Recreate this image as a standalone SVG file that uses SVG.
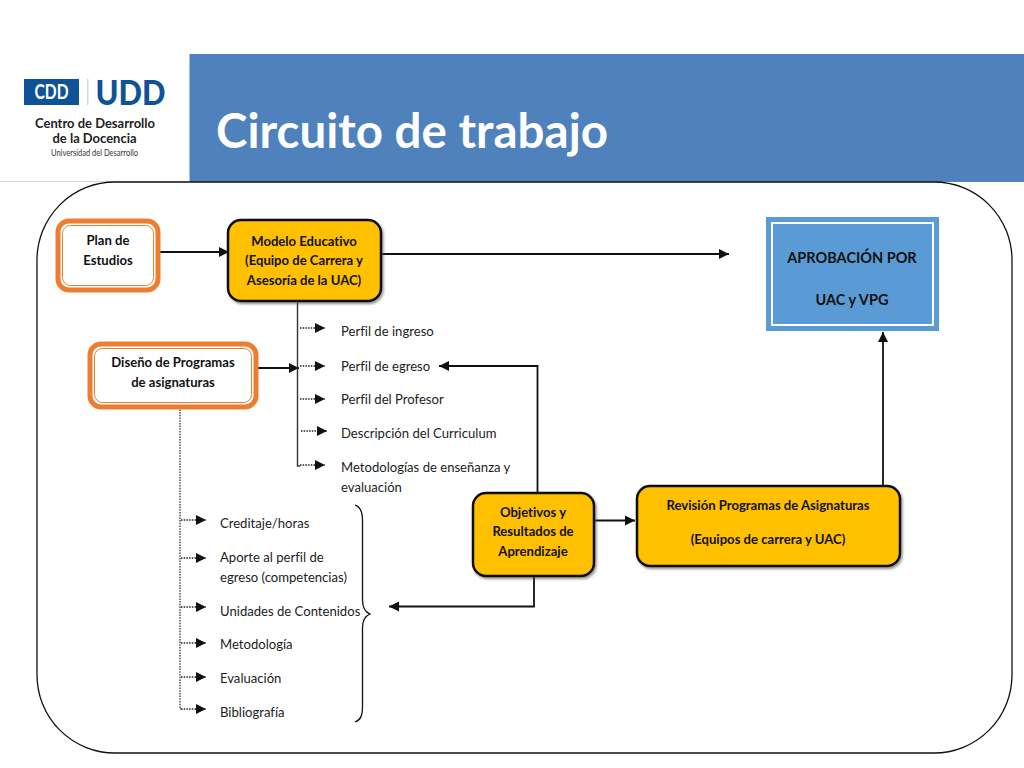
<svg xmlns="http://www.w3.org/2000/svg" width="1024" height="768" viewBox="0 0 1024 768">
<style>
text{font-family:"Lato","Carlito","Open Sans",sans-serif;fill:#1c1c1c;font-size:13.100px;font-variant-ligatures:none}
.c{text-anchor:middle}
.b{font-weight:700;fill:#111}
.org{fill:#fff;stroke:#ed7d31;stroke-width:5}
.orgi{fill:none;stroke:#ed7d31;stroke-width:1}
.gold{fill:#ffc000;stroke:#111;stroke-width:2.5;filter:url(#sh)}
.ln{fill:none;stroke:#111;stroke-width:1.800}
.dot{fill:none;stroke:#222;stroke-width:1.200;stroke-dasharray:1.500 1.200}
.dl{fill:none;stroke:#222;stroke-width:1.400;stroke-dasharray:1.500 1.200;marker-end:url(#ah2)}
.ar{marker-end:url(#ah)}
</style>
<defs>
<marker id="ah" markerUnits="userSpaceOnUse" markerWidth="12" markerHeight="12" refX="10" refY="6" orient="auto"><path d="M0,1 L10,6 L0,11 Z" fill="#111"/></marker>
<marker id="ah2" markerUnits="userSpaceOnUse" markerWidth="12" markerHeight="12" refX="10" refY="6" orient="auto"><path d="M0,1 L10,6 L0,11 Z" fill="#111"/></marker>
<filter id="sh" x="-5%" y="-5%" width="110%" height="115%"><feDropShadow dx="1.500" dy="2" stdDeviation="0.800" flood-color="#555" flood-opacity="0.6"/></filter>
</defs>
<rect width="1024" height="768" fill="#fff"/>
<g id="header">
<rect x="189.500" y="54" width="835" height="128" fill="#4f81bd"/>
<line x1="0" y1="181.500" x2="189" y2="181.500" stroke="#d9d9d9" stroke-width="1"/>
<text x="216" y="148" style="font-size:48px;font-weight:700;fill:#fff" textLength="392" lengthAdjust="spacingAndGlyphs">Circuito de trabajo</text>
</g>
<g id="logo">
<rect x="24" y="79" width="55" height="26" fill="#0f5297"/>
<text x="51.500" y="99" class="c" style="font-size:20px;font-weight:700;fill:#fff" textLength="34" lengthAdjust="spacingAndGlyphs">CDD</text>
<rect x="87" y="79" width="1.500" height="26" fill="#d5d5d5"/>
<text x="130.500" y="105" class="c" style="font-size:35px;font-weight:900;fill:#0f5297" textLength="70" lengthAdjust="spacingAndGlyphs">UDD</text>
<text x="95" y="128" class="c" style="font-size:13px;font-weight:700;fill:#222" textLength="120" lengthAdjust="spacingAndGlyphs">Centro de Desarrollo</text>
<text x="94.500" y="143" class="c" style="font-size:13px;font-weight:700;fill:#222" textLength="84" lengthAdjust="spacingAndGlyphs">de la Docencia</text>
<text x="94.500" y="156" class="c" style="font-size:8.500px;fill:#333" textLength="87" lengthAdjust="spacingAndGlyphs">Universidad del Desarrollo</text>
</g>
<rect id="frame" x="37" y="182" width="975" height="571" rx="78" ry="78" fill="none" stroke="#111" stroke-width="1.300"/>
<g id="connectors">
<path class="ln ar" d="M159,252 H229"/>
<path class="ln ar" d="M382,254 H729"/>
<path class="ln ar" d="M258,368 H299"/>
<path d="M297.500,302 V466 H300" fill="none" stroke="#333" stroke-width="1.400"/>
<path class="dot" d="M180,404 V709 H182"/>
<path class="ln ar" d="M537.500,492 V366 H439"/>
<path class="ln ar" d="M534,577 V606.500 H389"/>
<path class="ln ar" d="M595,520.500 H635"/>
<path class="ln ar" d="M883,486 V332"/>
<path class="dl" d="M300,328 H325"/>
<path class="dl" d="M300,366 H325"/>
<path class="dl" d="M300,399 H325"/>
<path class="dl" d="M301,431 H327"/>
<path class="dl" d="M300,465 H325"/>
<path class="dl" d="M181,520 H206"/>
<path class="dl" d="M181,558 H206"/>
<path class="dl" d="M181,607 H206"/>
<path class="dl" d="M181,643 H206"/>
<path class="dl" d="M181,677 H206"/>
<path class="dl" d="M181,709 H206"/>
<path id="brace" d="M355,505 C361,507 362.500,512 362.500,520 V600 C362.500,608 365,612 370,614 C365,616 362.500,620 362.500,628 V706 C362.500,715 361,720 355,722" fill="none" stroke="#111" stroke-width="1.300"/>
</g>
<g id="plan">
<rect class="org" x="58" y="221" width="100" height="69" rx="11"/>
<rect class="orgi" x="62.500" y="225.500" width="91" height="60" rx="8"/>
<text class="c b" x="108" y="245">Plan de</text>
<text class="c b" x="108" y="265">Estudios</text>
</g>
<g id="modelo">
<rect class="gold" x="228" y="220" width="153" height="81" rx="13"/>
<text class="c b" x="304" y="246">Modelo Educativo</text>
<text class="c b" x="304" y="265">(Equipo de Carrera y</text>
<text class="c b" x="304" y="285">Asesoría de la UAC)</text>
</g>
<g id="diseno">
<rect class="org" x="90" y="344" width="166" height="63" rx="11"/>
<rect class="orgi" x="94.500" y="348.500" width="157" height="54" rx="8"/>
<text class="c b" x="173" y="367">Diseño de Programas</text>
<text class="c b" x="173" y="387">de asignaturas</text>
</g>
<g id="aprobacion">
<rect x="766" y="217" width="173" height="114" fill="#5b9bd5"/>
<rect x="772" y="223" width="161" height="102" fill="none" stroke="#fff" stroke-width="2"/>
<text class="c b" x="852" y="263" style="font-size:14.500px">APROBACIÓN POR</text>
<text class="c b" x="852" y="305" style="font-size:14.500px">UAC y VPG</text>
</g>
<g id="objetivos">
<rect class="gold" x="473" y="493" width="121" height="83" rx="13"/>
<text class="c b" x="533" y="517">Objetivos y</text>
<text class="c b" x="533" y="536">Resultados de</text>
<text class="c b" x="533" y="556">Aprendizaje</text>
</g>
<g id="revision">
<rect class="gold" x="637" y="486" width="263" height="80" rx="13"/>
<text class="c b" x="768" y="510">Revisión Programas de Asignaturas</text>
<text class="c b" x="768" y="544">(Equipos de carrera y UAC)</text>
</g>
<g id="lista1">
<text x="341" y="336">Perfil de ingreso</text>
<text x="341" y="371">Perfil de egreso</text>
<text x="341" y="404">Perfil del Profesor</text>
<text x="341" y="438">Descripción del Curriculum</text>
<text x="341" y="472">Metodologías de enseñanza y</text>
<text x="341" y="492">evaluación</text>
</g>
<g id="lista2">
<text x="220" y="528">Creditaje/horas</text>
<text x="220" y="562">Aporte al perfil de</text>
<text x="220" y="582">egreso (competencias)</text>
<text x="220" y="616">Unidades de Contenidos</text>
<text x="220" y="649">Metodología</text>
<text x="220" y="683">Evaluación</text>
<text x="220" y="717">Bibliografía</text>
</g>
</svg>
